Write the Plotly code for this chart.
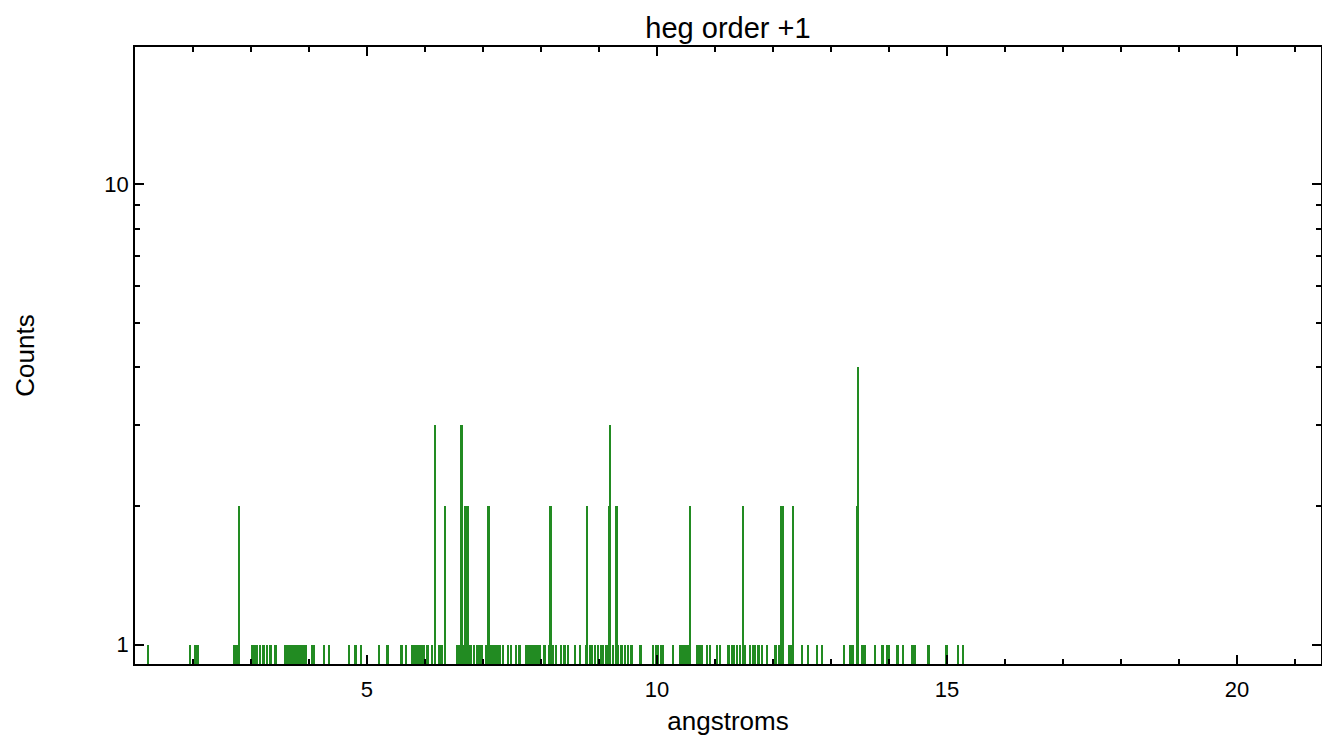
import plotly.graph_objects as go

# Wavelength (angstroms) of each non-empty bin and its counts
single_x = [1.223, 1.950, 2.042, 2.076, 2.716, 2.751, 3.016, 3.062, 3.102, 3.161, 3.218, 3.275,
            3.334, 3.420, 3.593, 3.633, 3.680, 3.725, 3.766, 3.806, 3.853, 3.905, 3.950, 4.054,
            4.083, 4.256, 4.343, 4.689, 4.804, 4.901, 5.208, 5.351, 5.593, 5.670, 5.773, 5.813,
            5.853, 5.900, 5.939, 5.986, 6.043, 6.119, 6.246, 6.285, 6.557, 6.592, 6.661, 6.713,
            6.765, 6.799, 6.851, 6.903, 6.938, 6.972, 7.059, 7.111, 7.163, 7.197, 7.232, 7.284,
            7.341, 7.427, 7.486, 7.573, 7.630, 7.751, 7.785, 7.820, 7.855, 7.889, 7.924, 7.976,
            8.062, 8.149, 8.206, 8.265, 8.351, 8.408, 8.465, 8.581, 8.668, 8.772, 8.841, 8.875,
            8.927, 8.984, 9.043, 9.071, 9.130, 9.244, 9.331, 9.389, 9.446, 9.503, 9.562, 9.718,
            9.926, 9.983, 10.022, 10.064, 10.109, 10.282, 10.398, 10.427, 10.455, 10.484, 10.514,
            10.542, 10.687, 10.715, 10.744, 10.773, 10.860, 10.917, 11.033, 11.090, 11.234,
            11.292, 11.320, 11.379, 11.436, 11.522, 11.609, 11.666, 11.696, 11.753, 11.811,
            11.898, 12.042, 12.099, 12.272, 12.301, 12.503, 12.600, 12.763, 12.849, 13.223,
            13.339, 13.379, 13.542, 13.581, 13.754, 13.888, 13.974, 14.002, 14.147, 14.244,
            14.406, 14.451, 14.683, 14.995, 15.185, 15.282]
single_counts = [1] * len(single_x)

peak_x = [2.79, 6.171, 6.344, 6.621, 6.631, 6.690, 6.735, 7.093, 8.166, 8.794, 9.170, 9.187,
          9.303, 10.566, 11.483, 12.145, 12.163, 12.341, 13.455, 13.472]
peak_counts = [2, 3, 2, 2, 3, 2, 2, 2, 2, 2, 2, 3, 2, 2, 2, 2, 2, 2, 2, 4]

x_vals = single_x + peak_x
y_vals = single_counts + peak_counts

x_ticks = [5, 10, 15, 20]
y_ticks = [1, 10]
y_minor = [2, 3, 4, 5, 6, 7, 8, 9, 20]

GREEN = "#228B22"
FONT = "Liberation Sans"

fig = go.Figure()
fig.add_trace(go.Bar(
    x=x_vals, y=y_vals, width=0.04,
    marker=dict(color=GREEN, line=dict(width=0)),
    hoverinfo="x+y", showlegend=False,
))

fig.update_layout(
    width=1322, height=740,
    margin=dict(l=135, r=1, t=47, b=76, autoexpand=False),
    paper_bgcolor="white", plot_bgcolor="white",
    font=dict(family=FONT, size=22, color="black"),
    title=dict(text="heg order +1", x=0.5, xref="paper", xanchor="center",
               y=1 - 28 / 740, yref="container", yanchor="middle",
               font=dict(family=FONT, size=29, color="black")),
    bargap=0,
)

fig.update_xaxes(
    range=[1.0, 21.45], showgrid=False, zeroline=False, automargin=False,
    showline=True, linecolor="black", linewidth=1.5, mirror="ticks",
    ticks="inside", ticklen=9, tickwidth=1.5, tickcolor="black",
    tickmode="array", tickvals=x_ticks, ticktext=[str(v) for v in x_ticks],
    ticklabelstandoff=5,
    minor=dict(ticks="inside", ticklen=5, tickwidth=1.5, tickcolor="black", dtick=1, tick0=0,
               showgrid=False),
    title=dict(text="angstroms", font=dict(family=FONT, size=26), standoff=11),
    tickfont=dict(family=FONT, size=22),
)

fig.update_yaxes(
    type="log", range=[-0.042, 1.298], showgrid=False, zeroline=False, automargin=False,
    showline=True, linecolor="black", linewidth=1.5, mirror="ticks",
    ticks="inside", ticklen=9, tickwidth=1.5, tickcolor="black",
    tickmode="array", tickvals=y_ticks, ticktext=[str(v) for v in y_ticks],
    minor=dict(ticks="inside", ticklen=5, tickwidth=1.5, tickcolor="black",
               tickmode="array", tickvals=y_minor, showgrid=False),
    title=dict(text="Counts", font=dict(family=FONT, size=26), standoff=62),
    tickfont=dict(family=FONT, size=22),
)

fig.write_html(
    "out.html",
    config={"displayModeBar": False},
    post_script="document.body.style.margin='0';document.body.style.overflow='hidden';",
)
